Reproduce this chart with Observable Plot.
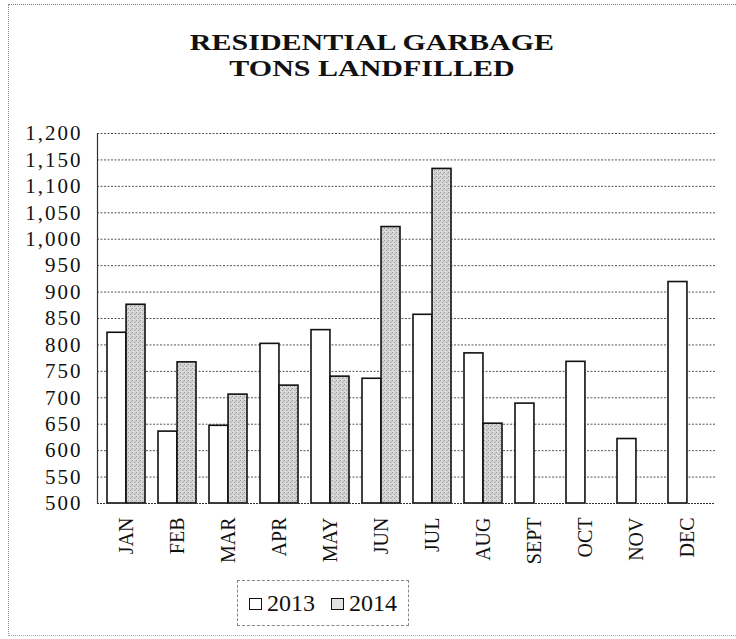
<!DOCTYPE html>
<html>
<head>
<meta charset="utf-8">
<script src="https://cdn.jsdelivr.net/npm/d3@7"></script>
<script src="https://cdn.jsdelivr.net/npm/@observablehq/plot@0.6"></script>
<style>
  body { margin: 0; background: #fff; }
  #wrap { position: relative; width: 736px; height: 639px; overflow: hidden; font-family: "Liberation Serif", "Times New Roman", serif; color: #111; }
  #frame { position: absolute; left: 8px; top: 4px; width: 728px; height: 632px; border-left: 1px dotted #888; border-top: 1px dotted #777; border-bottom: 1px dotted #aaa; box-sizing: border-box; }
  #chart { position: absolute; left: 0; top: 0; }
  #title { position: absolute; left: 0; width: 744px; top: 28.5px; text-align: center; font-weight: bold; font-size: 24px; line-height: 26.6px; transform: scaleX(1.25); transform-origin: 372px 0; }
  #legend { position: absolute; left: 237px; top: 580px; width: 172px; height: 46px; border: 1px dashed #888; box-sizing: border-box; display: flex; align-items: center; justify-content: center; gap: 16px; font-size: 24px; }
  #legend .item { display: flex; align-items: center; }
  #legend .sw { width: 13px; height: 12px; border: 1.5px solid #111; box-sizing: border-box; margin-right: 5px; margin-top: 2px; }
  svg g[aria-label="y-axis tick label"] text { letter-spacing: 2px; }
</style>
</head>
<body>
<div id="wrap">
  <div id="frame"></div>
  <div id="chart"></div>
  <div id="title">RESIDENTIAL GARBAGE<br>TONS LANDFILLED</div>
  <div id="legend"></div>
</div>
<script>
const months = ["JAN", "FEB", "MAR", "APR", "MAY", "JUN", "JUL", "AUG", "SEPT", "OCT", "NOV", "DEC"];
const seriesNames = ["2013", "2014"];
const tons2013 = [823, 636, 647, 802, 828, 736, 857, 784, 689, 768, 622, 919];
const tons2014 = [876, 767, 706, 723, 740, 1023, 1133, 651, null, null, null, null];
const yTicks = [500, 550, 600, 650, 700, 750, 800, 850, 900, 950, 1000, 1050, 1100, 1150, 1200];

const data2013 = months.map((m, i) => ({month: m, year: seriesNames[0], value: tons2013[i]}));
const data2014 = months.map((m, i) => ({month: m, year: seriesNames[1], value: tons2014[i]})).filter(d => d.value != null);

const W = 736, H = 639, mL = 97, mR = 21, mT = 133, mB = 136;
const padIn = 0.26, padOut = 0.13;
const step = (W - mL - mR) / (months.length - padIn + 2 * padOut);
const half = step * (1 - padIn) / 2;

const fillSpeckle = "url(#speckle)";

const svg = Plot.plot({
  width: W,
  height: H,
  marginLeft: mL,
  marginRight: mR,
  marginTop: mT,
  marginBottom: mB,
  style: {fontFamily: "'Liberation Serif', 'Times New Roman', serif", color: "#111", background: "transparent"},
  x: {domain: months, paddingInner: padIn, paddingOuter: padOut},
  y: {domain: [500, 1200]},
  marks: [
    Plot.ruleY(yTicks.slice(1), {stroke: "#555", strokeWidth: 1, strokeDasharray: "2,1.5"}),
    Plot.barY(data2013, {x: "month", y1: 500, y2: "value", fill: "white", stroke: "#111", strokeWidth: 1.6, insetRight: half}),
    Plot.barY(data2014, {x: "month", y1: 500, y2: "value", fill: fillSpeckle, stroke: "#111", strokeWidth: 1.6, insetLeft: half}),
    Plot.ruleY([500], {stroke: "#333", strokeWidth: 1.2, strokeDasharray: "2,1"}),
    Plot.frame({anchor: "left", stroke: "#333", strokeWidth: 1.2, strokeDasharray: "2,1"}),
    Plot.axisY({ticks: yTicks, tickFormat: d3.format(","), tickSize: 0, tickPadding: 15, fontSize: 21, label: null}),
    Plot.axisX({tickSize: 0, tickRotate: -90, tickPadding: 14, fontSize: 20, label: null})
  ]
});

const ns = "http://www.w3.org/2000/svg";
const defs = document.createElementNS(ns, "defs");
defs.innerHTML = '<pattern id="speckle" width="4" height="4" patternUnits="userSpaceOnUse">' +
  '<rect width="4" height="4" fill="#d4d4d4"/>' +
  '<rect x="0" y="0" width="1" height="1" fill="#999"/>' +
  '<rect x="2" y="2" width="1" height="1" fill="#a0a0a0"/>' +
  '<rect x="3" y="1" width="1" height="1" fill="#b5b5b5"/>' +
  '<rect x="1" y="3" width="1" height="1" fill="#ececec"/>' +
  '</pattern>';
svg.insertBefore(defs, svg.firstChild);
document.getElementById("chart").appendChild(svg);

const legend = document.getElementById("legend");
const swFills = ["white", "#e2e2e2"];
seriesNames.forEach((name, i) => {
  const item = document.createElement("div");
  item.className = "item";
  const sw = document.createElement("div");
  sw.className = "sw";
  sw.style.background = swFills[i];
  const t = document.createElement("span");
  t.textContent = name;
  item.appendChild(sw);
  item.appendChild(t);
  legend.appendChild(item);
});
</script>
</body>
</html>
